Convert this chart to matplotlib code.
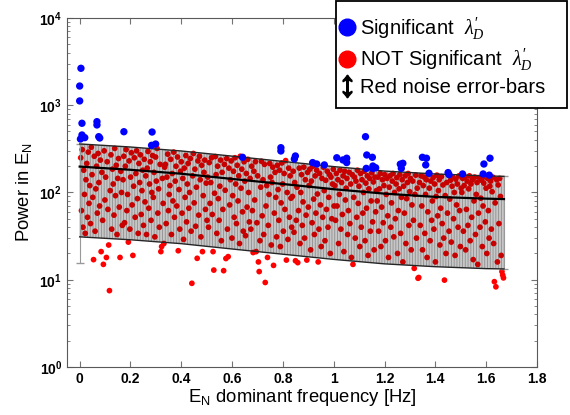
import numpy as np
import matplotlib
matplotlib.use('Agg')
import matplotlib.pyplot as plt
from matplotlib.lines import Line2D
from matplotlib.patches import Rectangle

plt.rcParams.update({
    'font.family': 'Liberation Sans',
    'mathtext.fontset': 'custom',
    'mathtext.rm': 'Liberation Sans',
    'mathtext.it': 'Liberation Serif:italic',
    'mathtext.bf': 'Liberation Sans:bold',
    'hatch.linewidth': 0.6,
})

# red noise error bars (upper / median / lower), read at a few frequencies
band_freq = [0.0, 0.2, 0.4, 0.6, 0.8, 1.0, 1.2, 1.4, 1.6, 1.67]
band_hi = [360, 332, 299, 261, 227, 198, 176, 163, 155, 153]
band_med = [198, 182, 164, 143, 125, 109, 97, 89, 85, 84]
band_lo = [31, 28.7, 25.9, 22.5, 19.6, 17.1, 15.2, 14.1, 13.4, 13.3]
first_bin_lo = 15.6

# significant peaks (blue)
sig_freq = [0.005, 0.0, 0.0, 0.009, 0.068, 0.068, 0.009, 0.003, 0.02, 0.075,
            0.079, 0.174, 0.285, 0.283, 0.299, 0.641, 0.792, 0.792, 0.849, 0.845,
            0.917, 0.933, 0.963, 1.012, 1.036, 1.051, 1.051, 1.125, 1.13, 1.128,
            1.152, 1.154, 1.165, 1.154, 1.262, 1.272, 1.266, 1.349, 1.365, 1.362,
            1.375, 1.45, 1.454, 1.507, 1.591, 1.615, 1.588, 1.612]
sig_power = [2650, 1660, 1120, 621, 648, 594, 456, 410, 425, 436,
             421, 497, 493, 347, 359, 253, 326, 299, 262, 242,
             220, 212, 207, 250, 236, 247, 220, 436, 269, 189,
             253, 201, 192, 188, 211, 216, 189, 253, 247, 207,
             166, 169, 160, 163, 212, 247, 163, 158]

# not significant (red), one value per frequency bin from 0 to 1.67 Hz
red_power = [
    # 0 - 0.17 Hz
    250, 62, 310, 40, 180, 95, 34, 140, 215, 52, 290, 75, 120, 44, 330, 160, 88, 17, 260, 36,
    110, 200, 58, 280, 130, 70, 235, 21, 170, 48, 15, 300, 82, 150, 18, 225, 64, 25, 7.5, 105,
    270, 38, 185, 125, 55, 320, 92, 205, 33, 145, 245, 68, 18, 175, 100, 42,
    # 0.17 - 0.33 Hz
    140, 260, 45, 200, 310, 62, 95, 27, 230, 38, 150, 285, 72, 19, 118, 250, 52, 165, 300, 85,
    34, 215, 130, 270, 56, 105, 180, 42, 240, 78, 155, 33, 190, 295, 66, 125, 225, 48, 100, 265,
    88, 170, 31, 255, 135, 320, 58, 110, 40, 210, 21, 24, 145, 75, 26, 195,
    # 0.33 - 0.5 Hz
    210, 44, 150, 275, 62, 95, 120, 240, 33, 165, 80, 290, 52, 135, 200, 70, 255, 21.5, 108, 38,
    175, 225, 58, 145, 29, 190, 88, 265, 46, 125, 215, 66, 100, 245, 36, 9.1, 155, 280, 76, 185,
    41, 115, 17.6, 230, 55, 260, 140, 31, 205, 21, 92, 170, 235, 64, 128, 48,
    # 0.5 - 0.67 Hz
    150, 40, 220, 75, 130, 250, 56, 21, 12.9, 98, 258, 160, 34, 200, 85, 48, 118, 235, 28, 170,
    64, 12.7, 210, 106, 17.5, 245, 38, 18.4, 190, 72, 140, 230, 30, 92, 175, 52, 250, 125, 44, 205,
    80, 155, 26, 260, 112, 185, 60, 36, 225, 135, 32, 165, 68, 240, 100, 46,
    # 0.67 - 0.83 Hz
    145, 38, 200, 62, 20.5, 175, 82, 225, 21, 45, 155, 16, 12.4, 28, 115, 228, 54, 140, 33, 210,
    9.3, 70, 120, 18, 42, 95, 215, 150, 25, 130, 195, 14.6, 58, 170, 88, 31, 205, 108, 48, 180,
    24, 76, 218, 125, 36, 165, 64, 232, 16.8, 100, 29, 190, 52, 155, 86, 40,
    # 0.83 - 1.0 Hz
    90, 175, 35, 130, 16.5, 48, 115, 15.7, 62, 190, 26, 100, 160, 42, 78, 195, 30, 140, 55, 16.8,
    170, 68, 120, 185, 22, 135, 45, 200, 84, 33, 155, 58, 180, 96, 16, 38, 165, 72, 24, 145,
    52, 195, 105, 28, 138, 64, 175, 40, 88, 160, 20, 150, 50, 125, 185, 70,
    # 1.0 - 1.17 Hz
    120, 48, 165, 70, 140, 26, 95, 180, 38, 130, 56, 155, 21, 175, 82, 112, 145, 33, 62, 170,
    44, 125, 18, 160, 15, 88, 150, 30, 135, 52, 180, 75, 118, 24, 165, 40, 140, 58, 100, 175,
    28, 128, 66, 155, 19, 110, 145, 36, 80, 168, 46, 132, 22, 150, 60, 105,
    # 1.17 - 1.33 Hz
    80, 150, 36, 110, 165, 24, 68, 140, 45, 120, 160, 28, 95, 145, 54, 18, 115, 155, 40, 76,
    135, 165, 31, 100, 50, 125, 148, 20, 62, 110, 160, 34, 88, 140, 16, 118, 58, 155, 26, 85,
    130, 165, 42, 102, 145, 22, 72, 135, 48, 13.5, 95, 158, 30, 112, 10.4, 10.6,
    # 1.33 - 1.5 Hz
    130, 42, 155, 70, 22, 120, 150, 34, 95, 140, 18, 60, 160, 112, 28, 135, 48, 80, 148, 38,
    125, 16, 90, 158, 54, 105, 140, 25, 66, 152, 44, 122, 30, 9.9, 92, 20, 130, 58, 160, 36,
    84, 138, 27, 118, 150, 50, 100, 19, 142, 72, 125, 40, 155, 62, 24, 112,
    # 1.5 - 1.67 Hz
    100, 145, 36, 120, 150, 22, 64, 135, 42, 110, 155, 28, 125, 52, 140, 17, 80, 150, 33, 95,
    130, 15, 58, 148, 40, 86, 138, 24, 70, 128, 152, 46, 112, 20, 145, 62, 30, 118, 135, 38,
    102, 150, 26, 9.5, 76, 8.3, 140, 16, 122, 44, 145, 90, 19, 12.4, 11.3, 10.5,
]
red_freq = np.linspace(0.004, 1.668, len(red_power))

xticks = [0, 0.2, 0.4, 0.6, 0.8, 1, 1.2, 1.4, 1.6, 1.8]
xtick_labels = ['0', '0.2', '0.4', '0.6', '0.8', '1', '1.2', '1.4', '1.6', '1.8']
yticks = [1, 10, 100, 1000, 10000]
ytick_labels = [r'$\mathbf{10^{0}}$', r'$\mathbf{10^{1}}$', r'$\mathbf{10^{2}}$',
                r'$\mathbf{10^{3}}$', r'$\mathbf{10^{4}}$']

W, H = 570, 415
fig = plt.figure(figsize=(W / 100, H / 100), dpi=100)
ax = fig.add_axes([0.1175, 0.1157, 0.8246, 0.841])

# gray band made of thin vertical bars
ax.fill_between(band_freq, band_lo, band_hi, facecolor='white', edgecolor='0.72',
                hatch='||||||', linewidth=0, zorder=1)
ax.scatter(red_freq, red_power, s=17, color='red', edgecolors='none', zorder=2)
# darken what sits inside the band
ax.fill_between(band_freq, band_lo, band_hi, facecolor='black', alpha=0.22,
                linewidth=0, zorder=3)
ax.errorbar([band_freq[0]], [band_med[0]],
            yerr=[[band_med[0] - first_bin_lo], [band_hi[0] - band_med[0]]],
            fmt='none', ecolor='0.6', elinewidth=0.8, capsize=3, zorder=3)
ax.errorbar([band_freq[-1]], [band_med[-1]],
            yerr=[[band_med[-1] - band_lo[-1]], [band_hi[-1] - band_med[-1]]],
            fmt='none', ecolor='0.6', elinewidth=0.8, capsize=3, zorder=3)
ax.plot(band_freq, band_hi, color='0.15', lw=1.0, zorder=4)
ax.plot(band_freq, band_med, color='black', lw=1.6, zorder=4)
ax.plot(band_freq, band_lo, color='0.15', lw=1.0, zorder=4)
ax.scatter(sig_freq, sig_power, s=28, color='blue', edgecolors='none', zorder=5)

ax.set_yscale('log')
ax.set_ylim(1, 1e4)
ax.set_xlim(-0.05, 1.8)
ax.set_xticks(xticks, labels=xtick_labels, fontweight='bold', fontsize=10)
ax.set_yticks(yticks, labels=ytick_labels, fontsize=10)
ax.tick_params(which='both', direction='in', top=True, right=True, color='0.45')
ax.tick_params(which='major', length=4)
ax.tick_params(which='minor', length=2)
for sp in ax.spines.values():
    sp.set_color('0.35')
    sp.set_linewidth(0.8)

ax.set_xlabel(r'$\mathrm{E_N}$ dominant frequency [Hz]', fontsize=13.3, labelpad=1)
ax.set_ylabel(r'Power in $\mathrm{E_N}$', fontsize=13.3, labelpad=4)

# legend box (wider than its content, sitting in the top right corner)
box = Rectangle((336 / W, 1 - 108 / H), 231 / W, 107 / H, transform=fig.transFigure,
                facecolor='white', edgecolor='black', linewidth=1.3, zorder=9)
fig.add_artist(box)

handles = [
    Line2D([], [], ls='none', marker='o', ms=12, color='blue'),
    Line2D([], [], ls='none', marker='o', ms=12, color='red'),
    Line2D([], [], ls='none', marker=r'$\updownarrow$', ms=16, color='black'),
]
labels = [r"Significant  $\lambda_D'$", r"NOT Significant  $\lambda_D'$", 'Red noise error-bars']
leg = fig.legend(handles, labels, loc='upper left', bbox_to_anchor=(339 / W, 1 - 15 / H),
                 frameon=False, fontsize=14.5, handletextpad=0.25, borderpad=0,
                 labelspacing=0.25, handlelength=0.8, borderaxespad=0)
leg.set_zorder(10)

fig.savefig('out.png', dpi=100)
